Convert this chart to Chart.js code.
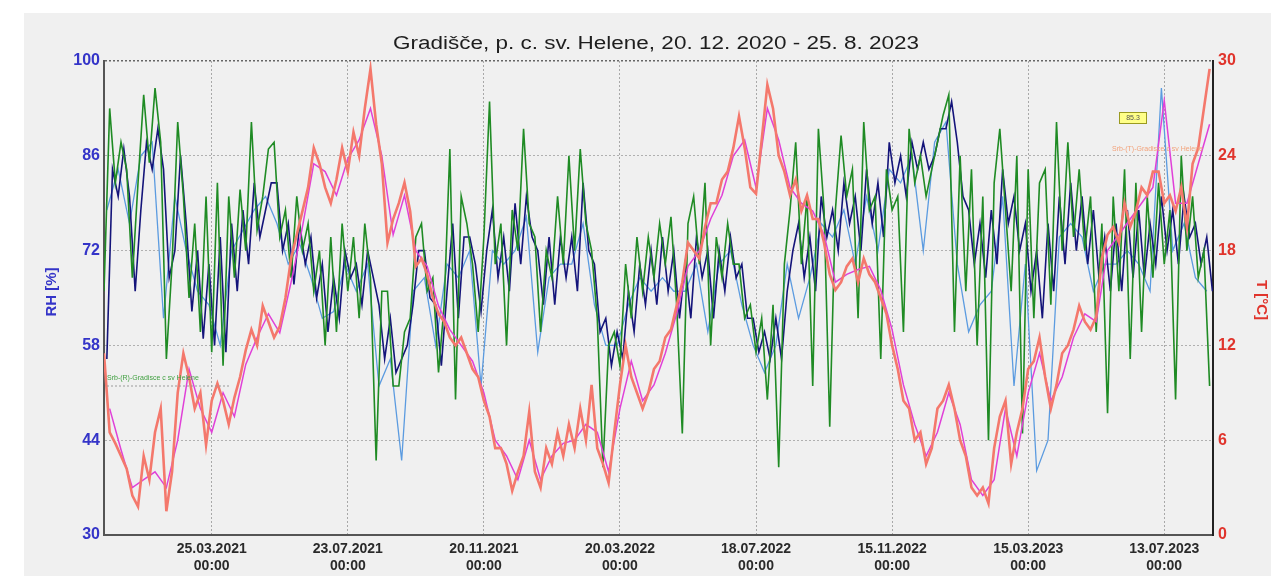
<!DOCTYPE html>
<html>
<head>
<meta charset="utf-8">
<title>Gradišče, p. c. sv. Helene</title>
<script src="https://cdn.jsdelivr.net/npm/chart.js@4.4.1/dist/chart.umd.min.js"></script>
<style>
  html, body { margin: 0; padding: 0; background: #fff; overflow: hidden; }
  canvas { display: block; }
</style>
</head>
<body>
<canvas id="myChart" width="1271" height="576"></canvas>
<script>
// x = dnevi od 20.12.2020 00:00
const xTickDays = [95, 215, 335, 455, 575, 695, 815, 935];
const xTickLabels = ['25.03.2021', '23.07.2021', '20.11.2021', '20.03.2022',
                     '18.07.2022', '15.11.2022', '15.03.2023', '13.07.2023'];
const rhTicks = [30, 44, 58, 72, 86, 100];
const tTicks = [0, 6, 12, 18, 24, 30];

// RH senzor 1 (zelen), vsakih 5 dni
const rhGreen = [
  66, 93, 82, 88, 84, 68, 82, 95, 85, 96, 88, 56, 70, 91, 80, 65, 76, 60, 80, 57,
  82, 55, 80, 68, 81, 72, 91, 75, 80, 87, 88, 74, 78, 68, 80, 72, 76, 66, 72, 58,
  74, 60, 76, 66, 74, 62, 76, 68, 41, 66, 66, 52, 52, 60, 62, 74, 76, 66, 68, 54,
  64, 87, 50, 80, 76, 70, 60, 74, 94, 70, 76, 58, 78, 72, 90, 76, 74, 60, 72, 68,
  80, 70, 86, 72, 87, 76, 72, 62, 40, 58, 60, 55, 70, 62, 74, 66, 74, 68, 76, 70,
  77, 64, 45, 76, 80, 70, 82, 58, 74, 68, 76, 70, 70, 62, 64, 57, 62, 50, 64, 40,
  70, 78, 88, 70, 80, 52, 90, 78, 46, 78, 89, 80, 84, 62, 91, 78, 80, 56, 84, 78,
  80, 60, 90, 82, 86, 80, 84, 88, 92, 95, 60, 86, 66, 84, 58, 80, 44, 82, 90, 78,
  66, 86, 45, 84, 62, 82, 84, 64, 91, 72, 88, 74, 84, 72, 80, 60, 76, 48, 80, 66,
  84, 56, 82, 60, 80, 68, 82, 70, 78, 50, 86, 72, 80, 68, 72, 52
];

// RH senzor 2 (temno moder), vsakih 5 dni
const rhNavy = [
  56, 84, 80, 87, 80, 66, 78, 88, 84, 90, 84, 68, 72, 86, 76, 63, 72, 59, 70, 58,
  74, 57, 76, 66, 78, 70, 82, 74, 78, 82, 82, 72, 76, 67, 76, 70, 74, 65, 70, 60,
  68, 62, 72, 68, 70, 64, 72, 68, 64, 56, 62, 54, 56, 58, 64, 72, 72, 65, 64, 55,
  66, 76, 62, 74, 74, 70, 63, 72, 78, 68, 74, 66, 79, 70, 80, 74, 72, 64, 74, 64,
  74, 68, 74, 66, 82, 72, 70, 60, 62, 55, 60, 56, 66, 60, 70, 64, 72, 64, 74, 66,
  72, 62, 70, 62, 74, 68, 72, 62, 72, 66, 74, 68, 70, 62, 62, 57, 60, 56, 62, 56,
  66, 72, 76, 68, 74, 66, 80, 74, 78, 72, 82, 76, 80, 72, 84, 76, 82, 74, 88, 82,
  86, 80, 88, 84, 88, 84, 86, 90, 90, 94, 88, 80, 78, 70, 76, 68, 78, 70, 84, 76,
  80, 72, 76, 66, 72, 62, 76, 66, 80, 70, 82, 72, 80, 70, 78, 68, 74, 66, 76, 66,
  78, 68, 78, 68, 76, 70, 80, 72, 78, 70, 80, 74, 76, 70, 74, 66
];

// RH senzor 3 (svetlo moder), vsakih 10 dni
const rhLightBlue = [
  78, 84, 76, 86, 88, 62, 80, 72, 66, 64, 58, 72, 75, 78, 80, 76, 70, 73, 68, 62,
  63, 70, 66, 70, 52, 56, 41, 66, 68, 58, 70, 68, 72, 52, 72, 70, 72, 77, 57, 68,
  70, 70, 76, 64, 58, 58, 64, 68, 66, 68, 66, 66, 70, 60, 70, 72, 64, 58, 54, 58,
  70, 62, 68, 76, 74, 78, 70, 80, 72, 84, 82, 86, 72, 88, 91, 70, 60, 64, 66, 80,
  52, 70, 39.5, 44, 74, 76, 74, 66, 70, 70, 72, 70, 66, 96, 72, 76, 68, 66
];

// T senzor 1 (lososov), vsakih 5 dni
const tSalmon = [
  11.5, 6.5, 5.8, 5.0, 4.2, 2.5, 1.8, 5.0, 3.5, 6.5, 8.0, 1.5, 4.0, 9.0, 11.5, 10.0, 8.0, 9.0, 5.7, 8.5,
  9.6, 8.5, 7.0, 8.7, 10.0, 11.7, 13.0, 12.0, 14.5, 13.5, 12.5, 13.2, 15.0, 17.5, 19.0, 20.5, 22.0, 24.5, 23.5, 22.0,
  21.0, 22.5, 24.5, 23.0, 25.5, 24.0, 27.0, 29.5, 26.0, 23.5, 18.5, 20.0, 21.0, 22.3, 20.5, 17.0, 17.5, 16.5, 15.0, 14.0,
  13.5, 12.5, 12.0, 12.5, 11.5, 10.5, 10.0, 8.5, 7.5, 5.5, 5.5, 4.5, 2.8, 4.0, 5.0, 7.8, 4.0, 3.0, 5.5, 4.5,
  6.5, 5.0, 7.0, 5.5, 8.0, 6.0, 9.5, 5.5, 4.5, 3.3, 6.5, 9.5, 12.0, 10.0, 9.0, 8.0, 9.0, 10.5, 11.0, 12.5,
  13.0, 14.5, 16.0, 18.5, 18.0, 17.5, 19.5, 21.0, 21.0, 22.5, 23.0, 24.5, 26.5, 24.5, 22.0, 21.6, 25.0, 28.5, 27.0, 24.0,
  23.0, 21.5, 22.5, 20.5, 21.5, 20.0, 20.0, 18.5, 16.5, 15.5, 16.0, 17.0, 17.5, 16.0, 17.5, 16.5, 16.0, 15.0, 14.0, 12.0,
  10.5, 8.5, 8.0, 6.0, 6.5, 4.5, 5.5, 8.0, 8.5, 9.5, 8.0, 6.0, 5.0, 3.0, 2.5, 3.0, 2.0, 5.5, 7.5, 8.5,
  4.5, 6.5, 8.0, 10.5, 11.0, 12.5, 10.0, 8.0, 9.5, 11.5, 12.0, 13.0, 14.5, 13.5, 13.0, 13.8, 17.5, 19.0, 19.5, 18.5,
  21.0, 19.5, 20.5, 22.0, 21.5, 23.0, 23.0, 21.0, 21.5, 20.5, 22.0, 19.5, 23.5, 24.5, 27.0, 29.5
];

// T senzor 2 (magenta), vsakih 10 dni
const tMagenta = [
  8, 5.4, 3, 3.5, 4, 3, 6, 10.5, 8, 6.5, 9, 7.5, 10.8, 12.5, 14, 12.8, 16, 19.5, 23.5, 23,
  21.5, 23.8, 25, 27, 24, 19, 21.5, 18, 17, 14.5, 13, 12, 11, 9, 6, 5, 3.5, 6, 3.5, 5,
  5.8, 6, 7, 6.5, 4, 8, 11, 8.5, 9.5, 11.5, 14, 17, 18, 20, 21.5, 24, 25, 22, 27, 25,
  22, 21, 20.5, 19, 16, 16.5, 16.8, 17, 15.5, 13, 9.5, 7, 5, 6.5, 9, 7, 3.5, 2.5, 3.5, 8,
  5, 9, 11.5, 8.5, 10, 12.5, 14, 13.5, 18, 19, 20, 21, 22, 27.5, 21, 21, 23.5, 26
];

function toPoints(values, step, offset) {
  return values.map((v, i) => ({ x: offset + i * step, y: v }));
}

const mainFont = 'Liberation Sans, Arial, sans-serif';

const bgPlugin = {
  id: 'bgPlugin',
  beforeDraw(chart) {
    const c = chart.ctx;
    c.save();
    c.fillStyle = '#ffffff';
    c.fillRect(0, 0, chart.width, chart.height);
    c.fillStyle = '#f0f0f0';
    c.fillRect(24, 13, chart.width - 24, chart.height - 13);
    c.restore();
  },
  afterDatasetsDraw(chart) {
    const c = chart.ctx;
    c.save();
    // oznake senzorjev
    c.font = '7px ' + mainFont;
    c.textBaseline = 'middle';
    c.fillStyle = '#3f9f3f';
    c.textAlign = 'left';
    c.fillText('Srb-(R)-Gradisce c sv Helene', 107, 378);
    c.strokeStyle = '#9a9a9a';
    c.setLineDash([2, 2]);
    c.beginPath();
    c.moveTo(107, 386);
    c.lineTo(230, 386);
    c.stroke();
    c.setLineDash([]);
    c.fillStyle = '#f2a27a';
    c.textAlign = 'right';
    c.fillText('Srb-(T)-Gradisce c sv Helene', 1203, 149);
    c.fillStyle = '#ffff88';
    c.strokeStyle = '#9a9a20';
    c.fillRect(1119, 112, 28, 12);
    c.strokeRect(1119.5, 112.5, 27, 11);
    c.fillStyle = '#555';
    c.textAlign = 'center';
    c.fillText('85.3', 1133, 118);
    c.restore();
  },
  afterDraw(chart) {
    const c = chart.ctx;
    // naslov - malo raztegnjen v širino kot na originalu
    c.save();
    c.fillStyle = '#1e1e1e';
    c.font = '18px ' + mainFont;
    c.textAlign = 'center';
    c.textBaseline = 'middle';
    c.translate(656, 44);
    c.scale(1.25, 1);
    c.fillText('Gradišče, p. c. sv. Helene, 20. 12. 2020 - 25. 8. 2023', 0, 0);
    c.restore();

    c.save();
    c.font = 'bold 15px ' + mainFont;
    c.fillStyle = '#3434c8';
    c.textAlign = 'center';
    c.textBaseline = 'middle';
    c.translate(52, 292);
    c.rotate(-Math.PI / 2);
    c.fillText('RH [%]', 0, 0);
    c.restore();

    c.save();
    c.font = 'bold 15px ' + mainFont;
    c.fillStyle = '#e0342c';
    c.textAlign = 'center';
    c.textBaseline = 'middle';
    c.translate(1261, 300);
    c.rotate(Math.PI / 2);
    c.fillText('T [°C]', 0, 0);
    c.restore();
  }
};

const ctx = document.getElementById('myChart').getContext('2d');

const myChart = new Chart(ctx, {
  type: 'line',
  data: {
    datasets: [
      {
        label: 'T Srb-(T)',
        data: toPoints(tSalmon, 5, 0),
        yAxisID: 'y2',
        borderColor: '#f4786c',
        borderWidth: 2.6
      },
      {
        label: 'T 2',
        data: toPoints(tMagenta, 10, 5),
        yAxisID: 'y2',
        borderColor: '#e040d8',
        borderWidth: 1.5
      },
      {
        label: 'RH Srb-(R)',
        data: toPoints(rhGreen, 5, 0),
        yAxisID: 'y',
        borderColor: '#1f8b24',
        borderWidth: 1.6
      },
      {
        label: 'RH 2',
        data: toPoints(rhNavy, 5, 2.5),
        yAxisID: 'y',
        borderColor: '#14147a',
        borderWidth: 1.6
      },
      {
        label: 'RH 3',
        data: toPoints(rhLightBlue, 10, 2.5),
        yAxisID: 'y',
        borderColor: '#5b9be0',
        borderWidth: 1.3
      }
    ]
  },
  options: {
    responsive: false,
    animation: false,
    events: [],
    elements: {
      point: { radius: 0 },
      line: { tension: 0, fill: false }
    },
    layout: { padding: { top: 61, left: 0, right: 0, bottom: 0 } },
    plugins: {
      legend: { display: false },
      tooltip: { enabled: false },
      title: { display: false }
    },
    scales: {
      x: {
        type: 'linear',
        min: 0,
        max: 978,
        afterBuildTicks: s => { s.ticks = xTickDays.map(v => ({ value: v })); },
        afterFit: s => { s.height = 41; },
        ticks: {
          autoSkip: false,
          maxRotation: 0,
          padding: 6,
          color: '#2a2a2a',
          font: { family: mainFont, size: 14, weight: 'bold', lineHeight: 1.2 },
          callback: (v, i) => [xTickLabels[i], '00:00']
        },
        grid: { color: '#a8a8a8', drawTicks: false },
        border: { display: true, color: '#555', width: 2, dash: [2, 2] }
      },
      y: {
        position: 'left',
        min: 30,
        max: 100,
        afterBuildTicks: s => { s.ticks = rhTicks.map(v => ({ value: v })); },
        afterFit: s => { s.width = 104; },
        ticks: {
          padding: 4,
          color: '#3434c8',
          font: { family: mainFont, size: 16, weight: 'bold' }
        },
        grid: {
          drawTicks: false,
          color: c => (c.tick && c.tick.value === 100) ? '#666' : '#b0b0b0',
          lineWidth: c => (c.tick && c.tick.value === 100) ? 1.5 : 1
        },
        border: { display: true, color: '#555', width: 2, dash: [2, 2] }
      },
      y2: {
        position: 'right',
        min: 0,
        max: 30,
        afterBuildTicks: s => { s.ticks = tTicks.map(v => ({ value: v })); },
        afterFit: s => { s.width = 58; },
        ticks: {
          padding: 5,
          color: '#e0342c',
          font: { family: mainFont, size: 16, weight: 'bold' }
        },
        grid: { drawOnChartArea: false, drawTicks: false },
        border: { display: true, color: '#222', width: 2 }
      }
    }
  },
  plugins: [bgPlugin]
});
</script>
</body>
</html>
